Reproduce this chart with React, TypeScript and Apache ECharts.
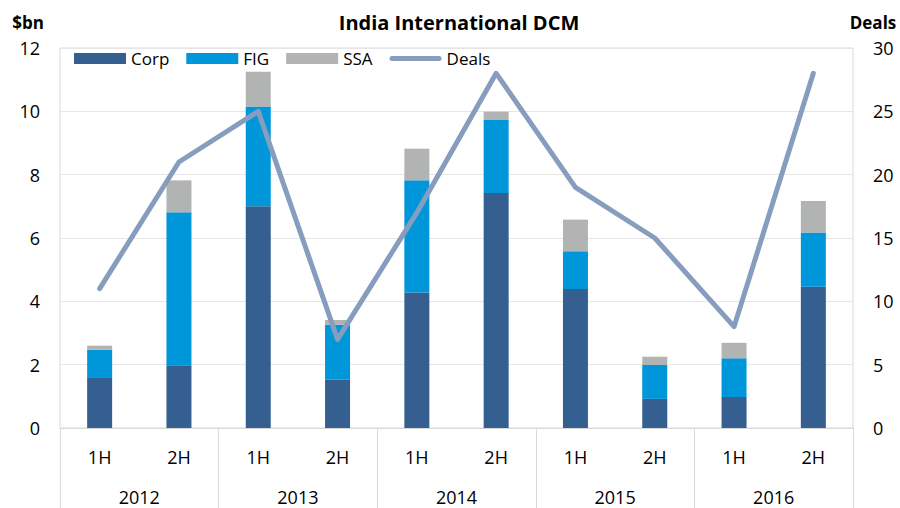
import React, { useEffect, useRef } from "react";
import * as echarts from "echarts";

const halves = ["1H", "2H", "1H", "2H", "1H", "2H", "1H", "2H", "1H", "2H"];
const years = ["2012", "2013", "2014", "2015", "2016"];
const corp = [1.58, 1.98, 7.0, 1.52, 4.28, 7.42, 4.39, 0.92, 0.98, 4.46];
const fig = [0.89, 4.83, 3.15, 1.74, 3.54, 2.32, 1.19, 1.07, 1.22, 1.71];
const ssa = [0.13, 1.01, 1.1, 0.15, 1.0, 0.25, 1.0, 0.26, 0.49, 1.0];
const deals = [11, 21, 25, 7, 17, 28, 19, 15, 8, 28];

const FONT = "'Open Sans', 'Noto Sans', sans-serif";
const LINE_ICON = "path://M2.5,0 L49.5,0 A2.5,2.5 0 0 1 49.5,5 L2.5,5 A2.5,2.5 0 0 1 2.5,0 Z";

export default function App() {
  const ref = useRef<HTMLDivElement>(null);
  useEffect(() => {
    if (!ref.current) return;
    const chart = echarts.init(ref.current, null, { renderer: "svg" });
    const lbl = { fontSize: 18, color: "#000", fontFamily: FONT };
    chart.setOption({
      animation: false,
      backgroundColor: "#fff",
      textStyle: { fontFamily: FONT },
      grid: { left: 60, right: 47, top: 48, bottom: 80, show: true, borderColor: "#d9d9d9", borderWidth: 1 },
      graphic: [
        { type: "text", x: 459, y: 22, style: { text: "India International DCM", font: `bold 20px ${FONT}`, fill: "#000", align: "center", verticalAlign: "middle" } },
        { type: "text", x: 28, y: 22, style: { text: "$bn", font: `bold 17px ${FONT}`, fill: "#000", align: "center", verticalAlign: "middle" } },
        { type: "text", x: 873, y: 22, style: { text: "Deals", font: `bold 17px ${FONT}`, fill: "#000", align: "center", verticalAlign: "middle" } },
      ],
      legend: {
        left: 74,
        top: 50,
        padding: 0,
        itemWidth: 52,
        itemHeight: 11,
        itemGap: 17,
        textStyle: { fontSize: 17, color: "#000", fontFamily: FONT },
        data: [
          { name: "Corp", icon: "rect" },
          { name: "FIG", icon: "rect" },
          { name: "SSA", icon: "rect" },
          { name: "Deals", icon: LINE_ICON, itemStyle: { color: "#869dbe" } },
        ],
      },
      xAxis: [
        {
          type: "category",
          data: halves,
          position: "bottom",
          offset: 0,
          axisLine: { lineStyle: { color: "#d9d9d9" } },
          axisTick: { show: false },
          axisLabel: { ...lbl, margin: 20 },
        },
        {
          type: "category",
          data: years,
          position: "bottom",
          offset: 0,
          boundaryGap: true,
          axisLine: { show: false },
          axisTick: { show: true, length: 80, lineStyle: { color: "#d9d9d9" } },
          axisLabel: { ...lbl, margin: 60 },
        },
      ],
      yAxis: [
        {
          type: "value",
          min: 0,
          max: 12,
          interval: 2,
          axisLine: { show: false },
          axisTick: { show: false },
          axisLabel: { ...lbl, margin: 20 },
          splitLine: { lineStyle: { color: "#e6e6e6" } },
        },
        {
          type: "value",
          min: 0,
          max: 30,
          interval: 5,
          position: "right",
          axisLine: { show: false },
          axisTick: { show: false },
          axisLabel: { ...lbl, margin: 20 },
          splitLine: { show: false },
        },
      ],
      series: [
        { name: "Corp", type: "bar", stack: "a", data: corp, barWidth: 25, itemStyle: { color: "#355f91" } },
        { name: "FIG", type: "bar", stack: "a", data: fig, barWidth: 25, itemStyle: { color: "#0097da" } },
        { name: "SSA", type: "bar", stack: "a", data: ssa, barWidth: 25, itemStyle: { color: "#b2b3b3" } },
        {
          name: "Deals",
          type: "line",
          yAxisIndex: 1,
          data: deals,
          symbol: "none",
          lineStyle: { color: "#869dbe", width: 5, cap: "round", join: "round" },
          itemStyle: { color: "#869dbe" },
        },
      ],
    });
    return () => chart.dispose();
  }, []);
  return <div ref={ref} style={{ width: 900, height: 508, position: "absolute", left: 0, top: 0 }} />;
}
